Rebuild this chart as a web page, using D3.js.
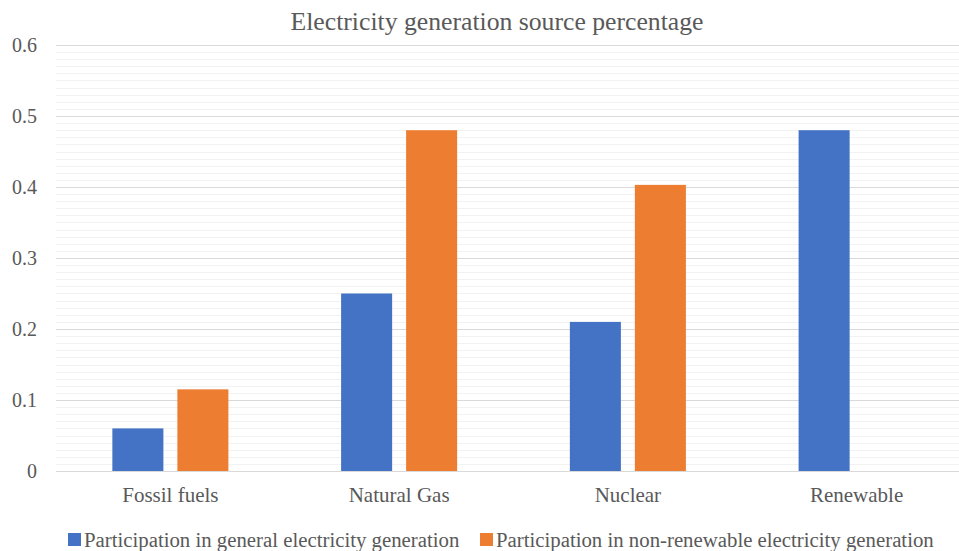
<!DOCTYPE html>
<html>
<head>
<meta charset="utf-8">
<script src="https://cdn.jsdelivr.net/npm/d3@7"></script>
<style>
  body { margin: 0; background: #fff; }
</style>
</head>
<body>
<div id="chart"></div>
<script>
// data
const categories = ["Fossil fuels", "Natural Gas", "Nuclear", "Renewable"];
const seriesNames = ["Participation in general electricity generation", "Participation in non-renewable electricity generation"];
const generalValues = [0.06, 0.25, 0.21, 0.48];
const nonRenewableValues = [0.115, 0.48, 0.403, 0];
const yTicks = [0, 0.1, 0.2, 0.3, 0.4, 0.5, 0.6];
const colors = ["#4472C4", "#ED7D31"];

const width = 959, height = 551;
const margin = { top: 45, right: -12, bottom: 80, left: 56 };
const font = "'Liberation Serif', 'DejaVu Serif', serif";

const svg = d3.select("#chart").append("svg")
    .attr("width", width)
    .attr("height", height)
    .attr("font-family", font);

const x = d3.scaleBand().domain(categories).range([margin.left, width - margin.right]).paddingInner(0).paddingOuter(0);
const y = d3.scaleLinear().domain([0, 0.6]).range([height - margin.bottom, margin.top]);

// two bars per category
const inner = d3.scaleBand().domain([0, 1]).range([0, x.bandwidth()]).paddingInner(0.215).paddingOuter(0.867);

// minor gridlines every 0.01
const minor = d3.range(1, 60).filter(i => i % 10 !== 0).map(i => i / 100);
svg.append("g").selectAll("line").data(minor).enter().append("line")
    .attr("x1", margin.left).attr("x2", width)
    .attr("y1", d => Math.round(y(d)) + 0.5).attr("y2", d => Math.round(y(d)) + 0.5)
    .attr("stroke", "#F2F2F2").attr("stroke-width", 1);

// major gridlines
svg.append("g").selectAll("line").data(yTicks).enter().append("line")
    .attr("x1", margin.left).attr("x2", width)
    .attr("y1", d => Math.round(y(d)) + 0.5).attr("y2", d => Math.round(y(d)) + 0.5)
    .attr("stroke", "#D9D9D9").attr("stroke-width", 1);

// y labels
svg.append("g").selectAll("text").data(yTicks).enter().append("text")
    .attr("x", 37).attr("y", d => y(d))
    .attr("dy", "0.35em")
    .attr("text-anchor", "end")
    .attr("fill", "#595959")
    .style("font-size", "20px")
    .text(d => d === 0 ? "0" : d3.format(".1f")(d));

// bars
const series = [generalValues, nonRenewableValues];
series.forEach((vals, si) => {
    svg.append("g").selectAll("rect").data(categories).enter().append("rect")
        .attr("x", (c) => x(c) + inner(si))
        .attr("width", inner.bandwidth())
        .attr("y", (c, i) => y(vals[i]))
        .attr("height", (c, i) => y(0) - y(vals[i]))
        .attr("fill", colors[si]);
});

// category labels
svg.append("g").selectAll("text").data(categories).enter().append("text")
    .attr("x", c => x(c) + x.bandwidth() / 2)
    .attr("y", 502)
    .attr("text-anchor", "middle")
    .attr("fill", "#595959")
    .style("font-size", "21px")
    .text(c => c);

// title
svg.append("text")
    .attr("x", 497).attr("y", 30)
    .attr("text-anchor", "middle")
    .attr("fill", "#595959")
    .style("font-size", "25.7px")
    .text("Electricity generation source percentage");

// legend
const legendX = [68, 480];
seriesNames.forEach((name, i) => {
    const g = svg.append("g").attr("transform", `translate(${legendX[i]},533)`);
    g.append("rect").attr("width", 13).attr("height", 13).attr("fill", colors[i]);
    g.append("text").attr("x", 16).attr("y", 14)
        .attr("fill", "#595959")
        .style("font-size", "20.8px").text(name);
});
</script>
</body>
</html>
